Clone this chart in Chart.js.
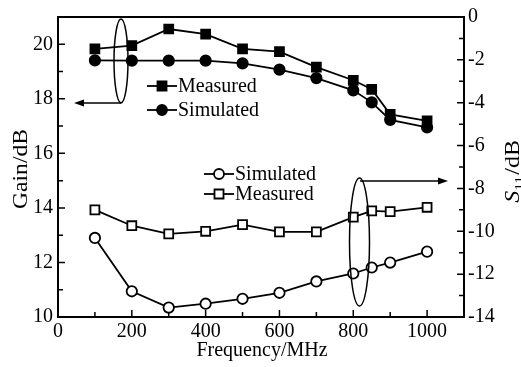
<!DOCTYPE html>
<html>
<head>
<meta charset="utf-8">
<script src="https://cdn.jsdelivr.net/npm/chart.js@4.4.0/dist/chart.umd.min.js"></script>
<style>
  html, body { margin: 0; padding: 0; background: #fff; }
  #wrap { width: 521px; height: 367px; }
</style>
</head>
<body>
<div id="wrap"><canvas id="chart" width="521" height="367"></canvas></div>
<script>
const freq = [100, 200, 300, 400, 500, 600, 700, 800, 850, 900, 1000];
const gainMeasured = [19.83, 19.95, 20.56, 20.37, 19.83, 19.73, 19.16, 18.68, 18.35, 17.43, 17.19];
const gainSimulated = [19.41, 19.4, 19.4, 19.4, 19.3, 19.07, 18.76, 18.31, 17.87, 17.23, 16.95];
const s11Measured = [-9.0, -9.74, -10.12, -10.0, -9.69, -10.03, -10.03, -9.34, -9.05, -9.08, -8.88];
const s11Simulated = [-10.31, -12.8, -13.56, -13.38, -13.15, -12.87, -12.34, -11.97, -11.69, -11.46, -10.95];

const xTicks = [0, 200, 400, 600, 800, 1000];
const gainTicks = [10, 12, 14, 16, 18, 20];
const s11Ticks = [0, -2, -4, -6, -8, -10, -12, -14];

const FONT = '"Liberation Serif", "DejaVu Serif", serif';

function pts(ys) {
  return freq.map((x, i) => ({ x: x, y: ys[i] }));
}

function series(label, ys, axis, style, filled) {
  return {
    label: label,
    data: pts(ys),
    yAxisID: axis,
    borderColor: '#000',
    borderWidth: 1.8,
    pointStyle: style,
    pointRadius: style === 'rect' ? 6.3 : 5.2,
    pointBorderWidth: 1.8,
    pointBackgroundColor: filled ? '#000' : '#fff',
    pointBorderColor: '#000',
    fill: false,
    tension: 0
  };
}

const setTicks = list => scale => { scale.ticks = list.map(v => ({ value: v })); };
const plain = v => String(v);

const decor = {
  id: 'decor',
  afterDraw(chart) {
    const ctx = chart.ctx;
    const a = chart.chartArea;
    const sx = chart.scales.x, sl = chart.scales.yGain, sr = chart.scales.yS11;
    ctx.save();
    ctx.strokeStyle = '#000';
    ctx.fillStyle = '#000';
    ctx.lineWidth = 2;
    ctx.strokeRect(a.left, a.top, a.right - a.left, a.bottom - a.top);

    // inward ticks
    ctx.lineWidth = 1.5;
    ctx.beginPath();
    for (let v = 100; v <= 1000; v += 100) {
      const p = sx.getPixelForValue(v);
      const len = v % 200 === 0 ? 7 : 5;
      ctx.moveTo(p, a.bottom); ctx.lineTo(p, a.bottom - len);
    }
    for (let v = 11; v <= 21; v++) {
      const p = sl.getPixelForValue(v);
      const len = v % 2 === 0 ? 7 : 5;
      ctx.moveTo(a.left, p); ctx.lineTo(a.left + len, p);
    }
    for (let v = -13; v <= -1; v++) {
      const p = sr.getPixelForValue(v);
      const len = v % 2 === 0 ? 7 : 5;
      ctx.moveTo(a.right, p); ctx.lineTo(a.right - len, p);
    }
    ctx.stroke();

    // ellipses and arrows
    ctx.lineWidth = 1.5;
    ctx.beginPath();
    ctx.ellipse(121, 61, 7, 42, 0, 0, Math.PI * 2);
    ctx.stroke();
    ctx.beginPath();
    ctx.moveTo(121, 103); ctx.lineTo(82, 103);
    ctx.stroke();
    ctx.beginPath();
    ctx.moveTo(74, 103); ctx.lineTo(84, 99.5); ctx.lineTo(84, 106.5); ctx.closePath();
    ctx.fill();

    ctx.beginPath();
    ctx.ellipse(359.5, 242, 10, 64, 0, 0, Math.PI * 2);
    ctx.stroke();
    ctx.beginPath();
    ctx.moveTo(360, 181); ctx.lineTo(440, 181);
    ctx.stroke();
    ctx.beginPath();
    ctx.moveTo(448, 181); ctx.lineTo(438, 177.5); ctx.lineTo(438, 184.5); ctx.closePath();
    ctx.fill();

    // legends
    const legend = [
      [162, 86, 'rect', true, 'Measured'],
      [162, 110, 'circle', true, 'Simulated'],
      [219, 174, 'circle', false, 'Simulated'],
      [219, 194, 'rect', false, 'Measured']
    ];
    ctx.font = '20px ' + FONT;
    ctx.textBaseline = 'middle';
    legend.forEach(([cx, cy, st, filled, txt]) => {
      ctx.lineWidth = 1.8;
      ctx.beginPath();
      ctx.moveTo(cx - 15, cy); ctx.lineTo(cx + 15, cy);
      ctx.stroke();
      ctx.beginPath();
      if (st === 'rect') ctx.rect(cx - 4.5, cy - 4.5, 9, 9);
      else ctx.arc(cx, cy, 5, 0, Math.PI * 2);
      ctx.fillStyle = filled ? '#000' : '#fff';
      ctx.fill();
      ctx.stroke();
      ctx.fillStyle = '#000';
      ctx.textAlign = 'left';
      ctx.fillText(txt, cx + 16, cy + 1);
    });

    // axis titles
    ctx.textAlign = 'center';
    ctx.textBaseline = 'alphabetic';
    ctx.fillText('Frequency/MHz', 262, 356);

    ctx.save();
    ctx.translate(27, 169);
    ctx.rotate(-Math.PI / 2);
    ctx.scale(1.18, 1);
    ctx.fillText('Gain/dB', 0, 0);
    ctx.restore();

    ctx.save();
    ctx.translate(519, 172);
    ctx.rotate(-Math.PI / 2);
    ctx.scale(1.2, 1);
    ctx.textAlign = 'left';
    ctx.font = 'italic 20px ' + FONT;
    const w1 = ctx.measureText('S').width;
    ctx.font = '13px ' + FONT;
    const w2 = ctx.measureText('11').width;
    ctx.font = '20px ' + FONT;
    const w3 = ctx.measureText('/dB').width;
    let x0 = -(w1 + w2 + w3) / 2;
    ctx.font = 'italic 20px ' + FONT;
    ctx.fillText('S', x0, 0);
    ctx.font = '13px ' + FONT;
    ctx.fillText('11', x0 + w1, 4);
    ctx.font = '20px ' + FONT;
    ctx.fillText('/dB', x0 + w1 + w2 + 1, 0);
    ctx.restore();

    ctx.restore();
  }
};

const noGrid = { display: false, drawTicks: false, tickLength: 0 };

new Chart(document.getElementById('chart'), {
  type: 'line',
  data: {
    datasets: [
      series('Measured', gainMeasured, 'yGain', 'rect', true),
      series('Simulated', gainSimulated, 'yGain', 'circle', true),
      series('Simulated', s11Simulated, 'yS11', 'circle', false),
      series('Measured', s11Measured, 'yS11', 'rect', false)
    ]
  },
  options: {
    responsive: false,
    animation: false,
    layout: { padding: { top: 13, left: 0, right: 0, bottom: 0 } },
    plugins: { legend: { display: false }, tooltip: { enabled: false } },
    scales: {
      x: {
        type: 'linear',
        min: 0,
        max: 1100,
        afterBuildTicks: setTicks(xTicks),
        afterFit: s => { s.height = 50; },
        grid: noGrid,
        border: { display: false },
        ticks: { color: '#000', font: { family: FONT, size: 20 }, padding: 3, maxRotation: 0, autoSkip: false, callback: plain }
      },
      yGain: {
        type: 'linear',
        position: 'left',
        min: 10,
        max: 21,
        afterBuildTicks: setTicks(gainTicks),
        afterFit: s => { s.width = 58; },
        grid: noGrid,
        border: { display: false },
        ticks: { color: '#000', font: { family: FONT, size: 20 }, padding: 5, autoSkip: false, callback: plain }
      },
      yS11: {
        type: 'linear',
        position: 'right',
        min: -14,
        max: 0,
        afterBuildTicks: setTicks(s11Ticks),
        afterFit: s => { s.width = 57; },
        grid: noGrid,
        border: { display: false },
        ticks: { color: '#000', font: { family: FONT, size: 20 }, padding: 4, autoSkip: false, callback: plain }
      }
    }
  },
  plugins: [decor]
});
</script>
</body>
</html>
